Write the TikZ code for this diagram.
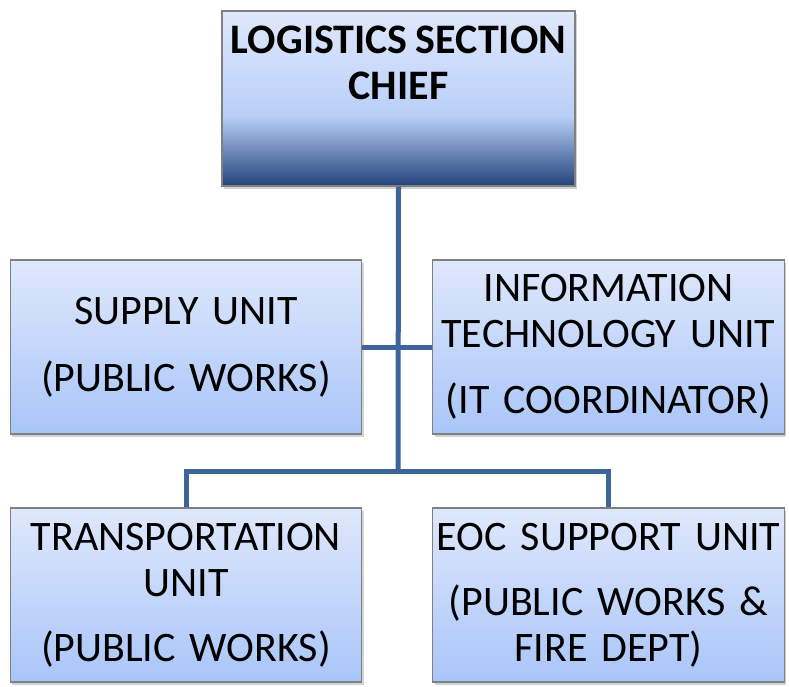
\documentclass[tikz,border=0pt]{standalone}
\usepackage{fontspec}
\setmainfont[WordSpace=0.85]{Carlito}
\usepackage{tikz}
\usetikzlibrary{shapes,positioning,calc,shadows}
\definecolor{linkblue}{HTML}{3D6597}
\definecolor{boxtop}{HTML}{DFE8FB}
\definecolor{boxbot}{HTML}{A9C5F9}
\definecolor{chiefmid}{HTML}{B9CFF8}
\definecolor{chiefbot}{HTML}{22437A}
\pgfdeclareverticalshading{chiefshade}{100bp}{color(0bp)=(chiefbot); color(25bp)=(chiefbot); color(45bp)=(chiefmid); color(75bp)=(boxtop); color(100bp)=(boxtop)}
\tikzstyle{unit} = [rectangle, draw=black!50, line width=1.2pt, top color=boxtop, bottom color=boxbot, minimum width=350pt, minimum height=174pt, text width=345pt, align=center, font=\fontsize{42}{46}\selectfont, drop shadow={opacity=0.35, shadow xshift=2pt, shadow yshift=-3pt}]
\tikzstyle{chiefbox} = [rectangle, draw=black!50, line width=1.2pt, shading=chiefshade, minimum width=353pt, minimum height=175pt, drop shadow={opacity=0.35, shadow xshift=2pt, shadow yshift=-3pt}]
\tikzstyle{link} = [linkblue, line width=5pt]

\begin{document}
\begin{tikzpicture}[x=1pt,y=-1pt]
					\useasboundingbox (0,0) rectangle (789,686);
					\node[chiefbox] (chief) at (398.5,98.5) {};
					\node[align=center, font=\fontsize{42}{46}\selectfont\bfseries, below=12pt of chief.north] (chieftitle) {LOGISTICS SECTION\\CHIEF};
					\node[unit] (supply) at (186,347) {SUPPLY UNIT\\[21pt](PUBLIC WORKS)};
					\node[unit] (info) at (608.5,347) {INFORMATION\\TECHNOLOGY UNIT\\[20pt](IT COORDINATOR)};
					\node[unit] (trans) at (186,595) {TRANSPORTATION\\UNIT\\[19pt](PUBLIC WORKS)};
					\node[unit] (eoc) at (608.5,595) {EOC SUPPORT UNIT\\[19pt](PUBLIC WORKS \&\\FIRE DEPT)};
					% helper coordinates
					\coordinate (bus) at (398,471);
					\draw[link] (chief.south) -- (bus);
					\draw[link] (supply.east) -- (info.west);
					\draw[link] (trans.north) |- (bus) -| (eoc.north);
			\end{tikzpicture}
\end{document}
